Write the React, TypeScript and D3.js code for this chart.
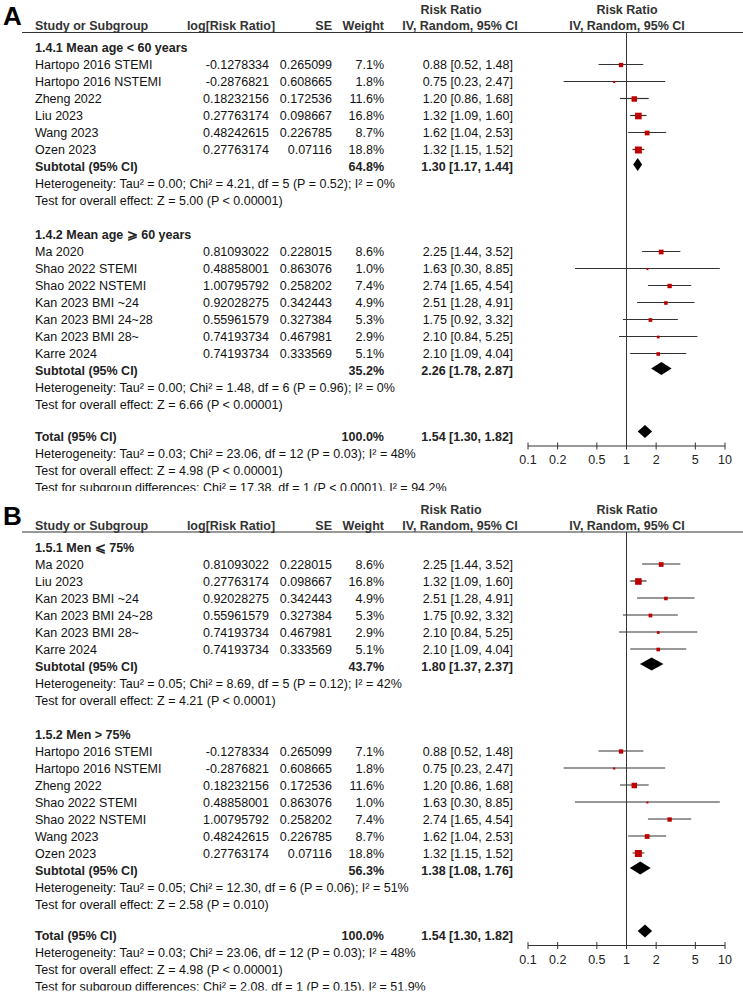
import React from 'react';
import * as d3 from 'd3';

// study level values (same numbers in both panels)
const studies = [
  'Hartopo 2016 STEMI', 'Hartopo 2016 NSTEMI', 'Zheng 2022', 'Liu 2023', 'Wang 2023', 'Ozen 2023',
  'Ma 2020', 'Shao 2022 STEMI', 'Shao 2022 NSTEMI', 'Kan 2023 BMI ~24', 'Kan 2023 BMI 24~28',
  'Kan 2023 BMI 28~', 'Karre 2024',
];
const logRR = [
  '-0.1278334', '-0.2876821', '0.18232156', '0.27763174', '0.48242615', '0.27763174',
  '0.81093022', '0.48858001', '1.00795792', '0.92028275', '0.55961579', '0.74193734', '0.74193734',
];
const seVals = [
  '0.265099', '0.608665', '0.172536', '0.098667', '0.226785', '0.07116',
  '0.228015', '0.863076', '0.258202', '0.342443', '0.327384', '0.467981', '0.333569',
];
const weights = [7.1, 1.8, 11.6, 16.8, 8.7, 18.8, 8.6, 1.0, 7.4, 4.9, 5.3, 2.9, 5.1];
const rr = [0.88, 0.75, 1.2, 1.32, 1.62, 1.32, 2.25, 1.63, 2.74, 2.51, 1.75, 2.1, 2.1];
const ciLow = [0.52, 0.23, 0.86, 1.09, 1.04, 1.15, 1.44, 0.3, 1.65, 1.28, 0.92, 0.84, 1.09];
const ciHigh = [1.48, 2.47, 1.68, 1.6, 2.53, 1.52, 3.52, 8.85, 4.54, 4.91, 3.32, 5.25, 4.04];

// panel A: mean age subgroups
const groupTitlesA = ['1.4.1 Mean age < 60 years', '1.4.2 Mean age \u2A7E 60 years'];
const groupStudiesA = [[0, 1, 2, 3, 4, 5], [6, 7, 8, 9, 10, 11, 12]];
const subWeightA = [64.8, 35.2];
const subRRA = [1.3, 2.26];
const subLowA = [1.17, 1.78];
const subHighA = [1.44, 2.87];
const hetA = [
  'Heterogeneity: Tau\u00B2 = 0.00; Chi\u00B2 = 4.21, df = 5 (P = 0.52); I\u00B2 = 0%',
  'Heterogeneity: Tau\u00B2 = 0.00; Chi\u00B2 = 1.48, df = 6 (P = 0.96); I\u00B2 = 0%',
];
const effectA = ['Test for overall effect: Z = 5.00 (P < 0.00001)', 'Test for overall effect: Z = 6.66 (P < 0.00001)'];
const subgroupDiffA = 'Test for subgroup differences: Chi\u00B2 = 17.38, df = 1 (P < 0.0001), I\u00B2 = 94.2%';

// panel B: proportion of men
const groupTitlesB = ['1.5.1 Men \u2A7D 75%', '1.5.2 Men > 75%'];
const groupStudiesB = [[6, 3, 9, 10, 11, 12], [0, 1, 2, 7, 8, 4, 5]];
const subWeightB = [43.7, 56.3];
const subRRB = [1.8, 1.38];
const subLowB = [1.37, 1.08];
const subHighB = [2.37, 1.76];
const hetB = [
  'Heterogeneity: Tau\u00B2 = 0.05; Chi\u00B2 = 8.69, df = 5 (P = 0.12); I\u00B2 = 42%',
  'Heterogeneity: Tau\u00B2 = 0.05; Chi\u00B2 = 12.30, df = 6 (P = 0.06); I\u00B2 = 51%',
];
const effectB = ['Test for overall effect: Z = 4.21 (P < 0.0001)', 'Test for overall effect: Z = 2.58 (P = 0.010)'];
const subgroupDiffB = 'Test for subgroup differences: Chi\u00B2 = 2.08, df = 1 (P = 0.15), I\u00B2 = 51.9%';

// overall
const totalWeight = 100;
const totalRR = [1.54, 1.3, 1.82];
const totalHet = 'Heterogeneity: Tau\u00B2 = 0.03; Chi\u00B2 = 23.06, df = 12 (P = 0.03); I\u00B2 = 48%';
const totalEffect = 'Test for overall effect: Z = 4.98 (P < 0.00001)';
const axisTicks = [0.1, 0.2, 0.5, 1, 2, 5, 10];

const W = 743;
const H = 999;
const PANEL_H = 499.5;
const ROW0 = 47.5;
const ROW_H = 17;
const FONT = '"Liberation Sans", Arial, sans-serif';
const FS = 12.5;

const f2 = d3.format('.2f');
const ciText = (m: number, l: number, h: number) => `${f2(m)} [${f2(l)}, ${f2(h)}]`;

const x = d3.scaleLog().domain([0.1, 10]).range([528, 725]);
const boxSize = d3.scaleSqrt().domain([0, 20]).range([0, 7.2]);

function Diamond({ m, l, h, y }: { m: number; l: number; h: number; y: number }) {
  const pts = [[x(l), y], [x(m), y - 6.5], [x(h), y], [x(m), y + 6.5]];
  return <polygon points={pts.map(p => p.join(',')).join(' ')} fill="#000" />;
}

function Panel(props: any) {
  const { letter, offset, titles, groups, subW, subR, subL, subH, het, effect, diff, id } = props;
  const rows: React.ReactNode[] = [];
  const rowY = (i: number) => ROW0 + i * ROW_H;
  let r = 0;
  groups.forEach((g: number[], gi: number) => {
    rows.push(
      <text key={`t${gi}`} x={35} y={rowY(r) + 4.5} fontWeight="bold" fill="#222">{titles[gi]}</text>
    );
    r++;
    g.forEach((s: number) => {
      const y = rowY(r);
      const b = Math.max(2, boxSize(weights[s]));
      rows.push(
        <g key={`s${s}`}>
          <text x={35} y={y + 4.5}>{studies[s]}</text>
          <text x={269} y={y + 4.5} textAnchor="end">{logRR[s]}</text>
          <text x={332} y={y + 4.5} textAnchor="end">{seVals[s]}</text>
          <text x={384} y={y + 4.5} textAnchor="end">{`${weights[s].toFixed(1)}%`}</text>
          <text x={513} y={y + 4.5} textAnchor="end">{ciText(rr[s], ciLow[s], ciHigh[s])}</text>
          <line x1={x(ciLow[s])} x2={x(ciHigh[s])} y1={y} y2={y} stroke="#333" strokeWidth={1.2} />
          <rect x={x(rr[s]) - b / 2} y={y - b / 2 + 0.5} width={b} height={b} fill="#c00000" />
        </g>
      );
      r++;
    });
    const sy = rowY(r);
    rows.push(
      <g key={`sub${gi}`} fontWeight="bold" fill="#222">
        <text x={35} y={sy + 4.5}>Subtotal (95% CI)</text>
        <text x={384} y={sy + 4.5} textAnchor="end">{`${subW[gi].toFixed(1)}%`}</text>
        <text x={513} y={sy + 4.5} textAnchor="end">{ciText(subR[gi], subL[gi], subH[gi])}</text>
        <Diamond m={subR[gi]} l={subL[gi]} h={subH[gi]} y={sy - 2} />
      </g>
    );
    r++;
    rows.push(<text key={`h${gi}`} x={35} y={rowY(r) + 4.5}>{het[gi]}</text>);
    r++;
    rows.push(<text key={`e${gi}`} x={35} y={rowY(r) + 4.5}>{effect[gi]}</text>);
    r += 2;
  });
  const ty = rowY(r) - 2.5;
  const axisY = ty + 10;
  rows.push(
    <g key="total" fontWeight="bold" fill="#222">
      <text x={35} y={ty + 4.5}>Total (95% CI)</text>
      <text x={384} y={ty + 4.5} textAnchor="end">{`${totalWeight.toFixed(1)}%`}</text>
      <text x={513} y={ty + 4.5} textAnchor="end">{ciText(totalRR[0], totalRR[1], totalRR[2])}</text>
      <Diamond m={totalRR[0]} l={totalRR[1]} h={totalRR[2]} y={ty - 4.5} />
    </g>
  );
  [totalHet, totalEffect, diff].forEach((t, i) => {
    rows.push(<text key={`tt${i}`} x={35} y={ty + (i + 1) * ROW_H + 4.5}>{t}</text>);
  });
  const clipH = ty + 3 * ROW_H + 4;

  return (
    <g transform={`translate(0,${offset})`} fontFamily={FONT} fontSize={FS} fill="#111">
      <defs>
        <clipPath id={id}>
          <rect x={0} y={0} width={W} height={clipH} />
        </clipPath>
      </defs>
      <g clipPath={`url(#${id})`}>
        <text x={3} y={25} fontSize={26} fontWeight="bold" fill="#000">{letter}</text>
        <g fontWeight="bold" fill="#333">
          <text x={35} y={30}>Study or Subgroup</text>
          <text x={231} y={30} textAnchor="middle">log[Risk Ratio]</text>
          <text x={332} y={30} textAnchor="end">SE</text>
          <text x={384} y={30} textAnchor="end">Weight</text>
          <text x={451} y={14} textAnchor="middle">Risk Ratio</text>
          <text x={460} y={30} textAnchor="middle">IV, Random, 95% CI</text>
          <text x={627} y={14} textAnchor="middle">Risk Ratio</text>
          <text x={627} y={30} textAnchor="middle">IV, Random, 95% CI</text>
        </g>
        <line x1={22} x2={W} y1={32.5} y2={32.5} stroke="#333" strokeWidth={1} />
        <line x1={x(1)} x2={x(1)} y1={32.5} y2={axisY} stroke="#333" strokeWidth={1} />
        {rows}
        <line x1={x(0.1)} x2={x(10)} y1={axisY} y2={axisY} stroke="#333" strokeWidth={1} />
        {axisTicks.map(t => (
          <g key={t}>
            <line x1={x(t)} x2={x(t)} y1={axisY - 3.5} y2={axisY + 3.5} stroke="#333" strokeWidth={1} />
            <text x={x(t)} y={axisY + 18} textAnchor="middle" fill="#222">{t}</text>
          </g>
        ))}
      </g>
    </g>
  );
}

export default function App() {
  return (
    <svg width={W} height={H} style={{ position: 'absolute', left: 0, top: 0, background: '#fff' }}>
      <rect width={W} height={H} fill="#fff" />
      <Panel letter="A" offset={0} id="clipA" titles={groupTitlesA} groups={groupStudiesA}
        subW={subWeightA} subR={subRRA} subL={subLowA} subH={subHighA}
        het={hetA} effect={effectA} diff={subgroupDiffA} />
      <Panel letter="B" offset={PANEL_H} id="clipB" titles={groupTitlesB} groups={groupStudiesB}
        subW={subWeightB} subR={subRRB} subL={subLowB} subH={subHighB}
        het={hetB} effect={effectB} diff={subgroupDiffB} />
    </svg>
  );
}
